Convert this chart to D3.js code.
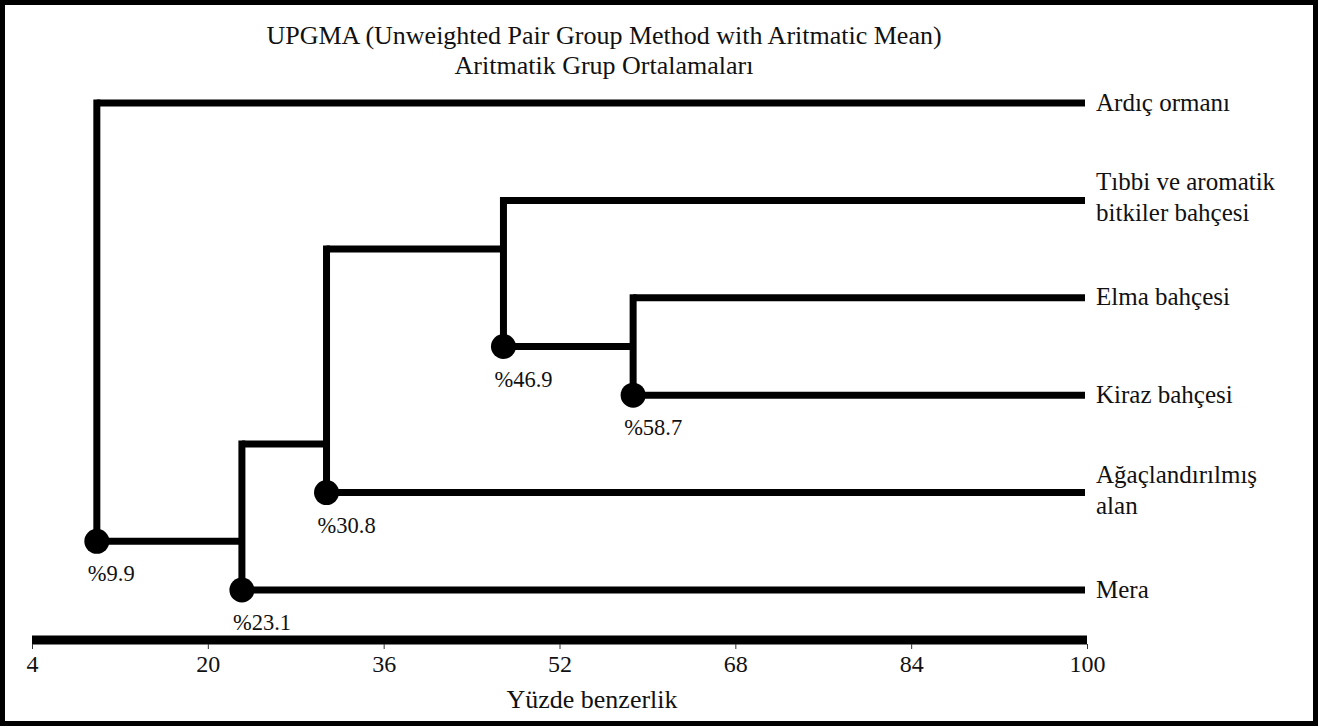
<!DOCTYPE html>
<html>
<head>
<meta charset="utf-8">
<script src="https://cdn.jsdelivr.net/npm/d3@7"></script>
<style>
  body { margin: 0; background: #fff; }
  text { font-family: "Liberation Serif", "Times New Roman", serif; fill: #111; }
</style>
</head>
<body>
<div id="chart"></div>
<script>
// leaves, top to bottom (multi-line names split by "|")
var leafNames = ["Ardıç ormanı", "Tıbbi ve aromatik|bitkiler bahçesi", "Elma bahçesi", "Kiraz bahçesi", "Ağaçlandırılmış|alan", "Mera"];
// merges: node ids 0-5 are leaves, merges get ids 6,7,8...
var mergeA = [2, 1, 7, 8, 0];
var mergeB = [3, 6, 4, 5, 9];
var mergeSim = [58.7, 46.9, 30.8, 23.1, 9.9];
var tickValues = [4, 20, 36, 52, 68, 84, 100];
var titleLines = ["UPGMA (Unweighted Pair Group Method with Aritmatic Mean)", "Aritmatik Grup Ortalamaları"];
var axisTitle = "Yüzde benzerlik";

var W = 1320, H = 727;
var svg = d3.select("#chart").append("svg")
    .attr("width", W)
    .attr("height", H);

// frame
svg.append("rect")
    .attr("x", 2.5).attr("y", 2.5)
    .attr("width", W - 7).attr("height", H - 6)
    .attr("fill", "none").attr("stroke", "#000").attr("stroke-width", 5);

var x = d3.scaleLinear().domain([4, 100]).range([32, 1087]);
var y = d3.scaleLinear().domain([0, leafNames.length - 1]).range([103, 590]);

// build nodes
var nodes = leafNames.map(function(name, i) {
    return { id: i, leaf: true, rows: [i], link: i, sim: 100, name: name };
});
mergeSim.forEach(function(s, i) {
    var a = nodes[mergeA[i]], b = nodes[mergeB[i]];
    var top = d3.min(a.rows) < d3.min(b.rows) ? a : b;
    var bot = top === a ? b : a;
    nodes.push({
        id: leafNames.length + i, leaf: false, sim: s,
        top: top, bot: bot,
        rows: a.rows.concat(b.rows),
        link: d3.max(top.rows) + 0.5
    });
});
var clusters = nodes.filter(function(d) { return !d.leaf; });

var lw = 7;
var g = svg.append("g");

// verticals
g.selectAll(".vline").data(clusters).enter().append("line")
    .attr("x1", function(d) { return x(d.sim); })
    .attr("x2", function(d) { return x(d.sim); })
    .attr("y1", function(d) { return y(d.top.link) - lw / 2; })
    .attr("y2", function(d) { return y(d.bot.link); })
    .attr("stroke", "#000").attr("stroke-width", lw);

// horizontals: each child to its parent's vertical
var links = [];
clusters.forEach(function(c) {
    [c.top, c.bot].forEach(function(ch) { links.push({ parent: c, child: ch }); });
});
g.selectAll(".hline").data(links).enter().append("line")
    .attr("x1", function(d) { return x(d.parent.sim); })
    .attr("x2", function(d) { return d.child.leaf ? x(100) - 2 : x(d.child.sim); })
    .attr("y1", function(d) { return y(d.child.link); })
    .attr("y2", function(d) { return y(d.child.link); })
    .attr("stroke", "#000").attr("stroke-width", lw);

// node dots + labels
g.selectAll(".dot").data(clusters).enter().append("circle")
    .attr("cx", function(d) { return x(d.sim); })
    .attr("cy", function(d) { return y(d.bot.link); })
    .attr("r", 12.5)
    .attr("fill", "#000");

g.selectAll(".nlab").data(clusters).enter().append("text")
    .attr("x", function(d) { return x(d.sim) - 9; })
    .attr("y", function(d) { return y(d.bot.link) + 40; })
    .attr("font-size", 22.5)
    .text(function(d) { return "%" + d.sim; });

// leaf labels
var leaves = nodes.filter(function(d) { return d.leaf; });
var lab = g.selectAll(".llab").data(leaves).enter().append("text")
    .attr("y", function(d) { return y(d.link); })
    .attr("font-size", 25);
lab.each(function(d) {
    var parts = d.name.split("|");
    var t = d3.select(this);
    parts.forEach(function(p, i) {
        t.append("tspan")
            .attr("x", x(100) + 9)
            .attr("dy", parts.length === 1 ? "0.3em" : (i === 0 ? "-0.4em" : "1.24em"))
            .text(p);
    });
});

// axis
var axisY = 640;
svg.append("line")
    .attr("x1", x(4)).attr("x2", x(100))
    .attr("y1", axisY).attr("y2", axisY)
    .attr("stroke", "#000").attr("stroke-width", 9);
var ax = svg.append("g")
    .attr("transform", "translate(0," + (axisY + 4) + ")")
    .call(d3.axisBottom(x).tickValues(tickValues).tickSize(5).tickSizeOuter(0));
ax.select(".domain").remove();
ax.selectAll("line").attr("stroke", "#333");
ax.selectAll("text")
    .attr("font-family", "Liberation Serif")
    .attr("font-size", 24)
    .attr("fill", "#111")
    .attr("dy", "0.85em");

svg.append("text")
    .attr("x", 592).attr("y", 708)
    .attr("text-anchor", "middle")
    .attr("font-size", 26)
    .text(axisTitle);

// title
svg.selectAll(".title").data(titleLines).enter().append("text")
    .attr("x", 604)
    .attr("y", function(d, i) { return 44 + i * 30; })
    .attr("text-anchor", "middle")
    .attr("font-size", 26)
    .text(function(d) { return d; });
</script>
</body>
</html>
